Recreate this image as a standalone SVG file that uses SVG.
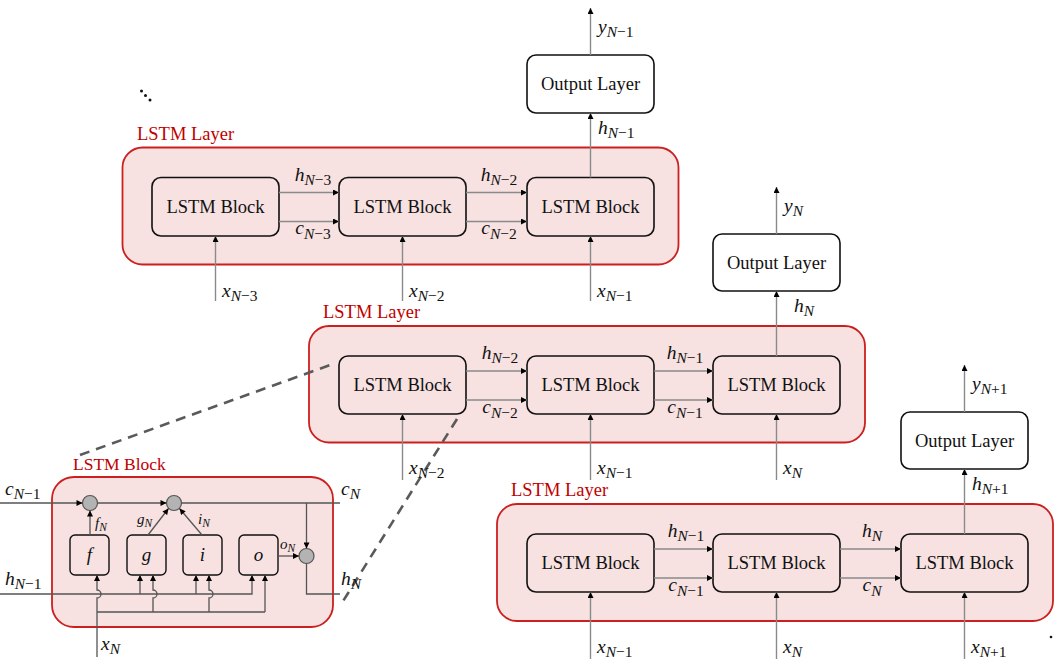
<svg xmlns="http://www.w3.org/2000/svg" width="1056" height="659" viewBox="0 0 1056 659">
<defs>
<style>
.layer{fill:#f7e1e1;stroke:#cc1f1f;stroke-width:1.8}
.blk{fill:#f7e1e1;stroke:#111;stroke-width:1.6}
.out{fill:#fff;stroke:#111;stroke-width:1.6}
.gate{fill:#f7e1e1;stroke:#111;stroke-width:1.4}
.dot{fill:#b3b3b3;stroke:#555;stroke-width:1.2}
.t{font-family:"Liberation Serif","Times New Roman",serif;font-size:18.5px;fill:#111}
.r{font-family:"Liberation Serif","Times New Roman",serif;font-size:18.5px;fill:#c00000}
.m{font-family:"Liberation Serif","Times New Roman",serif;font-size:19.5px;font-style:italic;fill:#111}
.g{font-family:"Liberation Serif","Times New Roman",serif;font-size:15px;font-style:italic;fill:#111}
.gl{font-family:"Liberation Serif","Times New Roman",serif;font-size:19px;font-style:italic;fill:#111}
.s{font-size:15.5px}
.gs{font-size:11.5px}
.up{font-style:normal}
.c{fill:none;stroke:#8a8a8a;stroke-width:1.4}
.d{fill:none;stroke:#555;stroke-width:1.3}
.dash{fill:none;stroke:#5a5a5a;stroke-width:2.6;stroke-dasharray:10 7}
</style>
<marker id="ah" viewBox="0 0 10 10" refX="10" refY="5" markerWidth="7" markerHeight="6" orient="auto" markerUnits="userSpaceOnUse"><path d="M0,0 L10,5 L0,10z" fill="#000"/></marker>
</defs>

<!-- Top layer -->
<g id="layer-top">
<rect class="layer" x="122.5" y="147.5" width="556" height="117" rx="20"/>
<text class="r" x="137" y="140">LSTM Layer</text>
</g>
<g id="blk-t1"><rect class="blk" x="152" y="177.5" width="127" height="58.5" rx="9"/><text class="t" x="215.5" y="213" text-anchor="middle">LSTM Block</text></g>
<g id="blk-t2"><rect class="blk" x="339" y="177.5" width="127" height="58.5" rx="9"/><text class="t" x="402.5" y="213" text-anchor="middle">LSTM Block</text></g>
<g id="blk-t3"><rect class="blk" x="527" y="177.5" width="127" height="58.5" rx="9"/><text class="t" x="590.5" y="213" text-anchor="middle">LSTM Block</text></g>
<g id="out-t"><rect class="out" x="527" y="55" width="127" height="58" rx="9"/><text class="t" x="590.5" y="90" text-anchor="middle">Output Layer</text></g>

<!-- Middle layer -->
<g id="layer-mid">
<rect class="layer" x="309" y="326" width="556" height="116.5" rx="20"/>
<text class="r" x="323" y="318">LSTM Layer</text>
</g>
<g id="blk-m1"><rect class="blk" x="339" y="356" width="127" height="58" rx="9"/><text class="t" x="402.5" y="391" text-anchor="middle">LSTM Block</text></g>
<g id="blk-m2"><rect class="blk" x="527" y="356" width="127" height="58" rx="9"/><text class="t" x="590.5" y="391" text-anchor="middle">LSTM Block</text></g>
<g id="blk-m3"><rect class="blk" x="713" y="356" width="127" height="58" rx="9"/><text class="t" x="776.5" y="391" text-anchor="middle">LSTM Block</text></g>
<g id="out-m"><rect class="out" x="713" y="234" width="127" height="57" rx="9"/><text class="t" x="776.5" y="269" text-anchor="middle">Output Layer</text></g>

<!-- Bottom layer -->
<g id="layer-bot">
<rect class="layer" x="497" y="504" width="556" height="117" rx="20"/>
<text class="r" x="511" y="496">LSTM Layer</text>
</g>
<g id="blk-b1"><rect class="blk" x="527" y="534" width="127" height="58" rx="9"/><text class="t" x="590.5" y="569" text-anchor="middle">LSTM Block</text></g>
<g id="blk-b2"><rect class="blk" x="713" y="534" width="127" height="58" rx="9"/><text class="t" x="776.5" y="569" text-anchor="middle">LSTM Block</text></g>
<g id="blk-b3"><rect class="blk" x="901" y="534" width="127" height="58" rx="9"/><text class="t" x="964.5" y="569" text-anchor="middle">LSTM Block</text></g>
<g id="out-b"><rect class="out" x="901" y="412" width="127" height="57" rx="9"/><text class="t" x="964.5" y="447" text-anchor="middle">Output Layer</text></g>

<!-- Detail LSTM block -->
<g id="detail">
<rect class="layer" x="52" y="477" width="281" height="150" rx="22"/>
<text class="r" x="73" y="470" style="font-size:17.5px">LSTM Block</text>
<circle class="dot" cx="90" cy="503" r="7.5"/>
<circle class="dot" cx="174" cy="503" r="7.5"/>
<circle class="dot" cx="306.5" cy="556" r="7.5"/>
<g id="gate-f"><rect class="gate" x="70" y="535" width="39" height="40" rx="5"/><text class="gl" x="89.5" y="561" text-anchor="middle">f</text></g>
<g id="gate-g"><rect class="gate" x="127" y="535" width="39" height="40" rx="5"/><text class="gl" x="146.5" y="561" text-anchor="middle">g</text></g>
<g id="gate-i"><rect class="gate" x="183" y="535" width="39" height="40" rx="5"/><text class="gl" x="202.5" y="561" text-anchor="middle">i</text></g>
<g id="gate-o"><rect class="gate" x="239" y="535" width="39" height="40" rx="5"/><text class="gl" x="258.5" y="561" text-anchor="middle">o</text></g>
</g>

<!-- Connectors -->
<g id="connectors">
<line class="c" x1="279" y1="192.5" x2="339" y2="192.5" marker-end="url(#ah)"/>
<line class="c" x1="279" y1="221.5" x2="339" y2="221.5" marker-end="url(#ah)"/>
<line class="c" x1="466" y1="192.5" x2="527" y2="192.5" marker-end="url(#ah)"/>
<line class="c" x1="466" y1="221.5" x2="527" y2="221.5" marker-end="url(#ah)"/>
<line class="c" x1="215.5" y1="301" x2="215.5" y2="236" marker-end="url(#ah)"/>
<line class="c" x1="402.5" y1="301" x2="402.5" y2="236" marker-end="url(#ah)"/>
<line class="c" x1="590.5" y1="301" x2="590.5" y2="236" marker-end="url(#ah)"/>
<line class="c" x1="590.5" y1="177.5" x2="590.5" y2="113" marker-end="url(#ah)"/>
<line class="c" x1="590.5" y1="55" x2="590.5" y2="8" marker-end="url(#ah)"/>
<line class="c" x1="466" y1="371" x2="527" y2="371" marker-end="url(#ah)"/>
<line class="c" x1="466" y1="400" x2="527" y2="400" marker-end="url(#ah)"/>
<line class="c" x1="654" y1="371" x2="713" y2="371" marker-end="url(#ah)"/>
<line class="c" x1="654" y1="400" x2="713" y2="400" marker-end="url(#ah)"/>
<line class="c" x1="402.5" y1="480" x2="402.5" y2="414" marker-end="url(#ah)"/>
<line class="c" x1="590.5" y1="480" x2="590.5" y2="414" marker-end="url(#ah)"/>
<line class="c" x1="776.5" y1="480" x2="776.5" y2="414" marker-end="url(#ah)"/>
<line class="c" x1="776.5" y1="356" x2="776.5" y2="291" marker-end="url(#ah)"/>
<line class="c" x1="776.5" y1="234" x2="776.5" y2="187" marker-end="url(#ah)"/>
<line class="c" x1="654" y1="549" x2="713" y2="549" marker-end="url(#ah)"/>
<line class="c" x1="654" y1="578" x2="713" y2="578" marker-end="url(#ah)"/>
<line class="c" x1="840" y1="549" x2="901" y2="549" marker-end="url(#ah)"/>
<line class="c" x1="840" y1="578" x2="901" y2="578" marker-end="url(#ah)"/>
<line class="c" x1="590.5" y1="659" x2="590.5" y2="592" marker-end="url(#ah)"/>
<line class="c" x1="776.5" y1="659" x2="776.5" y2="592" marker-end="url(#ah)"/>
<line class="c" x1="964.5" y1="659" x2="964.5" y2="592" marker-end="url(#ah)"/>
<line class="c" x1="964.5" y1="534" x2="964.5" y2="469" marker-end="url(#ah)"/>
<line class="c" x1="964.5" y1="412" x2="964.5" y2="365" marker-end="url(#ah)"/>
<line class="d" x1="0" y1="503" x2="82.5" y2="503" marker-end="url(#ah)"/>
<line class="d" x1="97.5" y1="503" x2="166.5" y2="503" marker-end="url(#ah)"/>
<line class="d" x1="181.5" y1="503" x2="340" y2="503"/>
<line class="d" x1="306.5" y1="503" x2="306.5" y2="548.5" marker-end="url(#ah)"/>
<line class="d" x1="278" y1="556" x2="299" y2="556" marker-end="url(#ah)"/>
<path class="d" d="M306.5,563.5 L306.5,594 L340,594"/>
<line class="d" x1="90" y1="535" x2="90" y2="510.5" marker-end="url(#ah)"/>
<line class="d" x1="148" y1="535" x2="168.5" y2="508.5" marker-end="url(#ah)"/>
<line class="d" x1="202" y1="535" x2="179.5" y2="508.5" marker-end="url(#ah)"/>
<path class="d" d="M0,594 L252,594 L252,575" marker-end="url(#ah)"/>
<line class="d" x1="140" y1="594" x2="140" y2="575" marker-end="url(#ah)"/>
<line class="d" x1="196" y1="594" x2="196" y2="575" marker-end="url(#ah)"/>
<path class="d" d="M97,657 L97,598 A4,4 0 0 0 97,590 L97,575" marker-end="url(#ah)"/>
<line class="d" x1="97" y1="612" x2="265" y2="612"/>
<path class="d" d="M153,612 L153,598 A4,4 0 0 0 153,590 L153,575" marker-end="url(#ah)"/>
<path class="d" d="M209,612 L209,598 A4,4 0 0 0 209,590 L209,575" marker-end="url(#ah)"/>
<line class="d" x1="265" y1="612" x2="265" y2="575" marker-end="url(#ah)"/>
<line class="dash" x1="80" y1="455" x2="333" y2="364"/>
<line class="dash" x1="457" y1="419" x2="340" y2="606"/>
</g>

<!-- Labels -->
<g id="labels">
<text class="m" x="313" y="181" text-anchor="middle">h<tspan class="s" dy="4">N<tspan class="up">−3</tspan></tspan></text>
<text class="m" x="313" y="234" text-anchor="middle">c<tspan class="s" dy="5">N<tspan class="up">−3</tspan></tspan></text>
<text class="m" x="499" y="181" text-anchor="middle">h<tspan class="s" dy="4">N<tspan class="up">−2</tspan></tspan></text>
<text class="m" x="499" y="234" text-anchor="middle">c<tspan class="s" dy="5">N<tspan class="up">−2</tspan></tspan></text>
<text class="m" x="222" y="297">x<tspan class="s" dy="4">N<tspan class="up">−3</tspan></tspan></text>
<text class="m" x="409" y="297">x<tspan class="s" dy="4">N<tspan class="up">−2</tspan></tspan></text>
<text class="m" x="597" y="297">x<tspan class="s" dy="4">N<tspan class="up">−1</tspan></tspan></text>
<text class="m" x="598" y="134">h<tspan class="s" dy="4">N<tspan class="up">−1</tspan></tspan></text>
<text class="m" x="598" y="33">y<tspan class="s" dy="4">N<tspan class="up">−1</tspan></tspan></text>

<text class="m" x="500" y="359" text-anchor="middle">h<tspan class="s" dy="4">N<tspan class="up">−2</tspan></tspan></text>
<text class="m" x="500" y="413" text-anchor="middle">c<tspan class="s" dy="5">N<tspan class="up">−2</tspan></tspan></text>
<text class="m" x="685" y="359" text-anchor="middle">h<tspan class="s" dy="4">N<tspan class="up">−1</tspan></tspan></text>
<text class="m" x="685" y="413" text-anchor="middle">c<tspan class="s" dy="5">N<tspan class="up">−1</tspan></tspan></text>
<text class="m" x="409" y="474">x<tspan class="s" dy="4">N<tspan class="up">−2</tspan></tspan></text>
<text class="m" x="597" y="474">x<tspan class="s" dy="4">N<tspan class="up">−1</tspan></tspan></text>
<text class="m" x="783" y="474">x<tspan class="s" dy="4">N</tspan></text>
<text class="m" x="794" y="312">h<tspan class="s" dy="4">N</tspan></text>
<text class="m" x="784" y="212">y<tspan class="s" dy="4">N</tspan></text>

<text class="m" x="686" y="537" text-anchor="middle">h<tspan class="s" dy="4">N<tspan class="up">−1</tspan></tspan></text>
<text class="m" x="686" y="591" text-anchor="middle">c<tspan class="s" dy="5">N<tspan class="up">−1</tspan></tspan></text>
<text class="m" x="872" y="537" text-anchor="middle">h<tspan class="s" dy="4">N</tspan></text>
<text class="m" x="872" y="591" text-anchor="middle">c<tspan class="s" dy="5">N</tspan></text>
<text class="m" x="597" y="653">x<tspan class="s" dy="4">N<tspan class="up">−1</tspan></tspan></text>
<text class="m" x="783" y="653">x<tspan class="s" dy="4">N</tspan></text>
<text class="m" x="971" y="653">x<tspan class="s" dy="4">N<tspan class="up">+1</tspan></tspan></text>
<text class="m" x="972" y="490">h<tspan class="s" dy="4">N<tspan class="up">+1</tspan></tspan></text>
<text class="m" x="972" y="390">y<tspan class="s" dy="4">N<tspan class="up">+1</tspan></tspan></text>

<text class="m" x="5" y="495">c<tspan class="s" dy="4">N<tspan class="up">−1</tspan></tspan></text>
<text class="m" x="5" y="585">h<tspan class="s" dy="4">N<tspan class="up">−1</tspan></tspan></text>
<text class="m" x="341" y="495">c<tspan class="s" dy="4">N</tspan></text>
<text class="m" x="341" y="585">h<tspan class="s" dy="4">N</tspan></text>
<text class="m" x="101" y="650">x<tspan class="s" dy="4">N</tspan></text>
<text class="g" x="95" y="528">f<tspan class="gs" dy="3">N</tspan></text>
<text class="g" x="137" y="524">g<tspan class="gs" dy="3">N</tspan></text>
<text class="g" x="198" y="524">i<tspan class="gs" dy="3">N</tspan></text>
<text class="g" x="280" y="549">o<tspan class="gs" dy="3">N</tspan></text>
</g>

<g id="ellipsis">
<circle cx="141.5" cy="91" r="1.5" fill="#111"/>
<circle cx="145.5" cy="95.5" r="1.5" fill="#111"/>
<circle cx="150" cy="100" r="1.5" fill="#111"/>
<circle cx="1051" cy="637" r="1.3" fill="#111"/>
</g>
</svg>
